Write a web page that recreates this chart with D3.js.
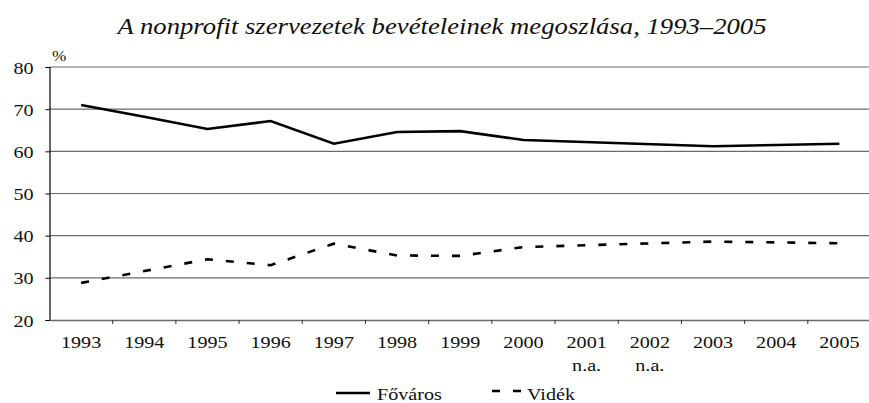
<!DOCTYPE html>
<html>
<head>
<meta charset="utf-8">
<script src="https://cdn.jsdelivr.net/npm/d3@7"></script>
<style>
	body { margin: 0; background: #fff; }
</style>
</head>
<body>
<div id="chart"></div>
<script>

// Data
var years = ["1993","1994","1995","1996","1997","1998","1999","2000","2001","2002","2003","2004","2005"];
var subLabels = ["","","","","","","","","n.a.","n.a.","","",""];
var fovaros = [71.0, 68.2, 65.3, 67.2, 61.8, 64.6, 64.8, 62.7, null, null, 61.2, 61.5, 61.8];
var videk = [28.8, 31.6, 34.4, 33.0, 38.1, 35.3, 35.2, 37.3, null, null, 38.6, 38.4, 38.2];
var yTicks = [20, 30, 40, 50, 60, 70, 80];
var titleText = "A nonprofit szervezetek bevételeinek megoszlása, 1993–2005";

// Drawing parameters
var width = 869, height = 403;
var plotLeft = 49.5, plotRight = 871, plotTop = 67, plotBottom = 320;
var sx = 1.15; // the source is stretched horizontally
var fontFamily = "'Liberation Serif', 'Times New Roman', Times, serif";
var gridColor = "#6a6a6a";
var lineWidth = 2.6;

var svg = d3.select("#chart").append("svg")
	.attr("width", width).attr("height", height);

var x = d3.scaleBand().domain(years).range([plotLeft, plotRight]);
var y = d3.scaleLinear().domain([20, 80]).range([plotBottom, plotTop]);

function stretchedText(g, tx, ty, str, size, anchor) {
	return g.append("text")
		.attr("transform", "translate(" + tx + "," + ty + ") scale(" + sx + ",1)")
		.attr("text-anchor", anchor || "start")
		.style("font-family", fontFamily)
		.style("font-size", size + "px")
		.style("fill", "#111")
		.text(str);
}

// Title
stretchedText(svg, 442, 33.5, titleText, 23.2, "middle").style("font-style", "italic");

// Gridlines
svg.append("g").selectAll("line").data(yTicks.filter(function(d) { return d > 20; }))
	.enter().append("line")
	.attr("x1", plotLeft).attr("x2", plotRight)
	.attr("y1", function(d) { return y(d); }).attr("y2", function(d) { return y(d); })
	.attr("stroke", gridColor).attr("stroke-width", 1.2);

// Y axis
var yAxis = svg.append("g")
	.attr("transform", "translate(" + plotLeft + ",0)")
	.call(d3.axisLeft(y).tickValues(yTicks).tickSize(4).tickFormat(""));
yAxis.select(".domain").attr("stroke", "#000").attr("stroke-width", 1.2);
yAxis.selectAll(".tick line").attr("stroke", "#000");
yAxis.selectAll(".tick").each(function(d) {
	stretchedText(d3.select(this), -16, 6, d, 17.5, "end");
});

stretchedText(svg, 52, 61, "%", 15, "start");

// X axis
var xAxis = svg.append("g")
	.attr("transform", "translate(0," + plotBottom + ")")
	.call(d3.axisBottom(x).tickSize(0).tickFormat(""));
xAxis.select(".domain").attr("stroke", gridColor).attr("stroke-width", 1.4);
xAxis.selectAll(".tick").remove();

svg.append("g").selectAll("line").data(years.slice(1))
	.enter().append("line")
	.attr("x1", function(d) { return x(d); }).attr("x2", function(d) { return x(d); })
	.attr("y1", plotBottom).attr("y2", plotBottom + 4)
	.attr("stroke", "#333").attr("stroke-width", 1);

var xl = svg.append("g");
years.forEach(function(d, i) {
	var cx = x(d) + x.bandwidth() / 2;
	stretchedText(xl, cx, 348, d, 17.5, "middle");
	if (subLabels[i]) stretchedText(xl, cx, 371, subLabels[i], 17.5, "middle");
});

// Lines
var line = d3.line()
	.x(function(d) { return x(d.year) + x.bandwidth() / 2; })
	.y(function(d) { return y(d.value); });

function toPoints(vals) {
	return years.map(function(yr, i) { return { year: yr, value: vals[i] }; })
		.filter(function(p) { return p.value !== null; });
}

svg.append("path").datum(toPoints(fovaros))
	.attr("d", line).attr("fill", "none")
	.attr("stroke", "#000").attr("stroke-width", lineWidth);

svg.append("path").datum(toPoints(videk))
	.attr("d", line).attr("fill", "none")
	.attr("stroke", "#000").attr("stroke-width", lineWidth)
	.attr("stroke-dasharray", "8,13");

// Legend
var legend = svg.append("g");
legend.append("line")
	.attr("x1", 336).attr("x2", 370).attr("y1", 393).attr("y2", 393)
	.attr("stroke", "#000").attr("stroke-width", lineWidth);
stretchedText(legend, 377, 400, "Főváros", 17.5, "start");
legend.append("line")
	.attr("x1", 492).attr("x2", 521).attr("y1", 391).attr("y2", 391)
	.attr("stroke", "#000").attr("stroke-width", lineWidth)
	.attr("stroke-dasharray", "8,13");
stretchedText(legend, 527, 400, "Vidék", 17.5, "start");

</script>
</body>
</html>
